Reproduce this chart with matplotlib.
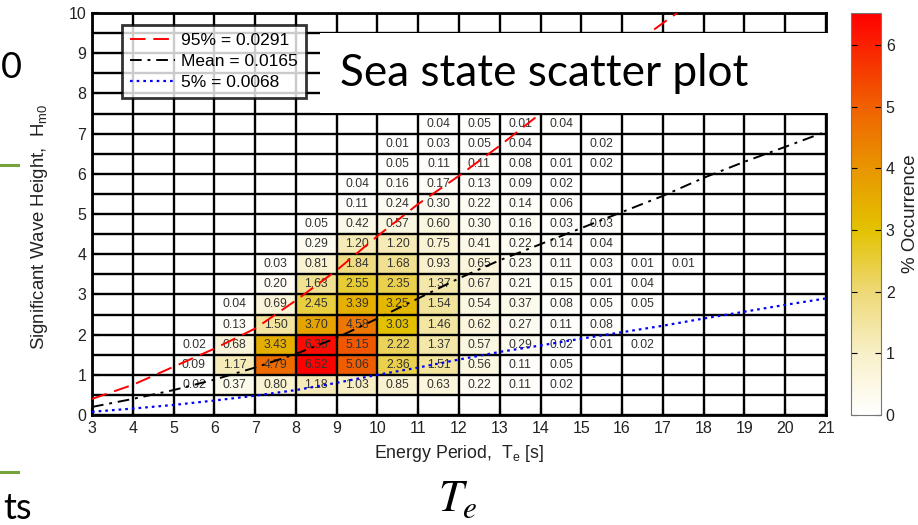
import numpy as np
import matplotlib.pyplot as plt
from matplotlib.colors import LinearSegmentedColormap
from matplotlib.patches import Rectangle
from matplotlib.lines import Line2D

plt.rcParams['font.family'] = ['Liberation Sans', 'DejaVu Sans']
plt.rcParams['mathtext.fontset'] = 'custom'
plt.rcParams['mathtext.rm'] = 'Liberation Sans'
plt.rcParams['mathtext.it'] = 'Liberation Sans:italic'
plt.rcParams['mathtext.default'] = 'regular'

# bin edges of the scatter table
te_edges = np.arange(3, 22, 1.0)
hm0_edges = np.arange(0, 10.5, 0.5)

# occupied part of the table: columns Te = 5.5..17.5, rows Hm0 = 7.25 down to 0.75
te_cols = [5.5, 6.5, 7.5, 8.5, 9.5, 10.5, 11.5, 12.5, 13.5, 14.5, 15.5, 16.5, 17.5]
hm0_rows = [7.25, 6.75, 6.25, 5.75, 5.25, 4.75, 4.25, 3.75, 3.25, 2.75, 2.25, 1.75, 1.25, 0.75]
_ = None
occurrence = [
    [_, _, _, _, _, _, 0.04, 0.05, 0.01, 0.04, _, _, _],
    [_, _, _, _, _, 0.01, 0.03, 0.05, 0.04, _, 0.02, _, _],
    [_, _, _, _, _, 0.05, 0.11, 0.11, 0.08, 0.01, 0.02, _, _],
    [_, _, _, _, 0.04, 0.16, 0.17, 0.13, 0.09, 0.02, _, _, _],
    [_, _, _, _, 0.11, 0.24, 0.30, 0.22, 0.14, 0.06, _, _, _],
    [_, _, _, 0.05, 0.42, 0.57, 0.60, 0.30, 0.16, 0.03, 0.03, _, _],
    [_, _, _, 0.29, 1.20, 1.20, 0.75, 0.41, 0.22, 0.14, 0.04, _, _],
    [_, _, 0.03, 0.81, 1.84, 1.68, 0.93, 0.65, 0.23, 0.11, 0.03, 0.01, 0.01],
    [_, _, 0.20, 1.63, 2.55, 2.35, 1.37, 0.67, 0.21, 0.15, 0.01, 0.04, _],
    [_, 0.04, 0.69, 2.45, 3.39, 3.25, 1.54, 0.54, 0.37, 0.08, 0.05, 0.05, _],
    [_, 0.13, 1.50, 3.70, 4.58, 3.03, 1.46, 0.62, 0.27, 0.11, 0.08, _, _],
    [0.02, 0.68, 3.43, 6.35, 5.15, 2.22, 1.37, 0.57, 0.29, 0.02, 0.01, 0.02, _],
    [0.09, 1.17, 4.79, 6.52, 5.06, 2.36, 1.51, 0.56, 0.11, 0.05, _, _, _],
    [0.02, 0.37, 0.80, 1.18, 1.03, 0.85, 0.63, 0.22, 0.11, 0.02, _, _, _],
]

# steepness curves
te_95 = [3, 4, 5, 6, 7, 8, 9, 10, 11, 12, 13, 14, 15, 16, 17, 17.35]
hm0_95 = [0.40, 0.75, 1.2, 1.65, 2.15, 2.85, 3.6, 4.45, 5.25, 5.95, 6.7, 7.5, 8.25, 9.0, 9.75, 10.0]
te_line = list(range(3, 22))
hm0_mean = [0.2, 0.40, 0.62, 0.88, 1.18, 1.52, 1.92, 2.4, 2.9, 3.4, 3.85, 4.25, 4.65,
            5.05, 5.45, 5.9, 6.3, 6.67, 7.05]
hm0_5 = [0.08, 0.16, 0.25, 0.36, 0.48, 0.62, 0.8, 1.0, 1.18, 1.38, 1.57, 1.73, 1.9,
         2.06, 2.22, 2.4, 2.57, 2.74, 2.9]
line_labels = ['95% = 0.0291', 'Mean = 0.0165', '5% = 0.0068']

grid = np.full((len(hm0_edges) - 1, len(te_edges) - 1), np.nan)
for i, h in enumerate(hm0_rows):
    for j, te in enumerate(te_cols):
        if occurrence[i][j] is not None:
            grid[int(h / 0.5), int(te - 3)] = occurrence[i][j]
vmax = np.nanmax(grid)

cmap = LinearSegmentedColormap.from_list('occ', [
    (0.0, '#ffffff'), (0.15, '#f8f0c8'), (0.30, '#eed97a'), (0.46, '#e3c200'),
    (0.60, '#e89a00'), (0.77, '#f06000'), (1.0, '#ff0000')])
cmap.set_bad('white')

fig = plt.figure(figsize=(9.18, 5.25), dpi=100)
ax = fig.add_axes([92 / 918, 1 - 415 / 525, 734 / 918, 402 / 525])

mesh = ax.pcolormesh(te_edges, hm0_edges, np.ma.masked_invalid(grid), cmap=cmap,
                     vmin=0, vmax=vmax, zorder=1)
ax.vlines(te_edges, 0, 10, color='k', lw=1.7, zorder=2)
ax.hlines(hm0_edges, 3, 21, color='k', lw=1.7, zorder=2)

for i, h in enumerate(hm0_rows):
    for j, te in enumerate(te_cols):
        v = occurrence[i][j]
        if v is not None:
            ax.text(te, h, f'{v:.2f}', ha='center', va='center', fontsize=8.7,
                    color='#333333', zorder=3)

l95, = ax.plot(te_95, hm0_95, color='red', lw=1.4, ls=(0, (8, 4)), zorder=4)
lmean, = ax.plot(te_line, hm0_mean, color='black', lw=1.4, ls=(0, (6, 3, 1.5, 3)), zorder=4)
l5, = ax.plot(te_line, hm0_5, color='blue', lw=1.6, ls=(0, (1.2, 1.8)), zorder=4)

ax.set_xlim(3, 21)
ax.set_ylim(0, 10)
ax.set_xticks(range(3, 22))
ax.set_yticks(range(0, 11))
ax.tick_params(direction='in', length=5, width=1.5, labelsize=11.5, pad=4,
               labelcolor='#222222')
for s in ax.spines.values():
    s.set_linewidth(2)
ax.set_xlabel('Energy Period,  T$_e$ [s]', fontsize=12.8, labelpad=5, color='#222222')

fig.text(40 / 918, 1 - 350 / 525, 'Significant Wave Height,  H$_{m0}$', rotation=90,
         ha='center', va='bottom', fontsize=13.4, color='#222222')

leg = ax.legend([l95, lmean, l5], line_labels, loc='upper left',
                bbox_to_anchor=(30 / 734, (415 - 25) / 402), fontsize=12.5,
                frameon=True, fancybox=False, borderaxespad=0, borderpad=0.45,
                labelspacing=0.35, handlelength=2.6, handletextpad=0.35)
leg.get_frame().set_edgecolor('black')
leg.get_frame().set_linewidth(2)
leg.set_zorder(5)

cax = fig.add_axes([851 / 918, 1 - 415 / 525, 30 / 918, 402 / 525])
cb = fig.colorbar(mesh, cax=cax)
cb.set_ticks(range(0, 7))
cb.outline.set_linewidth(0.8)
cb.outline.set_edgecolor('#777777')
cax.tick_params(direction='in', length=4, left=True, right=True, labelsize=11.5,
                labelcolor='#222222')
cb.set_label('% Occurrence', fontsize=13.5, labelpad=5, color='#222222')

# slide overlay
fig.patches.append(Rectangle((320 / 918, 1 - 113 / 525), 508 / 918, 80 / 525,
                             transform=fig.transFigure, facecolor='white',
                             edgecolor='none', zorder=10))
fig.text(340 / 918, 1 - 73 / 525, 'Sea state scatter plot', fontsize=31.8,
         family='Lato', ha='left', va='center', zorder=11)
fig.text(1 / 918, 1 - 68 / 525, '0', fontsize=26, family='Lato', ha='left', va='center')
fig.text(3 / 918, 1 - 519 / 525, 'ts', fontsize=26, family='Lato', ha='left', va='baseline')
fig.text(458 / 918, 1 - 500 / 525, r'$\mathit{T}_{\mathit{e}}$', fontsize=32,
         math_fontfamily='stix', ha='center', va='center')
for yy in [165, 472]:
    fig.add_artist(Line2D([0, 18 / 918], [1 - yy / 525, 1 - yy / 525],
                          transform=fig.transFigure, color='#76a33a', lw=2.2))

fig.savefig('out.png', dpi=100)
